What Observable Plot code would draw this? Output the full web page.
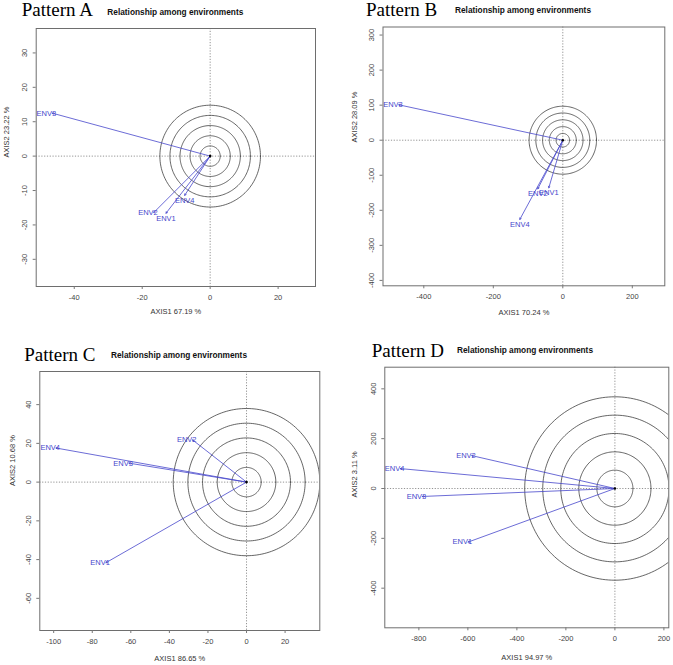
<!DOCTYPE html>
<html><head><meta charset="utf-8">
<script src="https://cdn.jsdelivr.net/npm/d3@7"></script>
<script src="https://cdn.jsdelivr.net/npm/@observablehq/plot@0.6"></script>
<style>
body{margin:0;background:#fff;}
#root{position:relative;width:673px;height:665px;overflow:hidden;background:#fff;}
.ttl{position:absolute;font-family:"Liberation Serif","Times New Roman",serif;font-size:19px;line-height:1;white-space:nowrap;color:#000;}
.sub{position:absolute;font-family:"Liberation Sans",Arial,sans-serif;font-weight:bold;font-size:8.3px;line-height:1;white-space:nowrap;color:#111;}
.pl{position:absolute;}
</style></head><body><div id="root"></div>
<script>
// ---- data ----
const envNames = ["ENV1", "ENV2", "ENV3", "ENV4"];

const tipXA = [-13, -16.6, -46.5, -7.5];
const tipYA = [-16.6, -16.4, 12.5, -11.4];
const radiiA = [2.96, 5.92, 8.88, 11.84, 14.8];
const xTicksA = [-40, -20, 0, 20];
const yTicksA = [-30, -20, -10, 0, 10, 20, 30];

const tipXB = [-40.3, -72, -472, -123.7];
const tipYB = [-135.8, -138.7, 101, -226];
const radiiB = [19.4, 38.8, 58.2, 77.6, 97];
const xTicksB = [-400, -200, 0, 200];
const yTicksB = [-400, -300, -200, -100, 0, 100, 200, 300];

const tipXC = [-72.9, -28, -61, -98.8];
const tipYC = [-41.6, 21.8, 9.8, 17.6];
const radiiC = [7.6, 15.2, 22.8, 30.4, 38];
const xTicksC = [-100, -80, -60, -40, -20, 0, 20];
const yTicksC = [-60, -40, -20, 0, 20, 40];

const tipXD = [-599, -584, -786, -875.5];
const tipYD = [-215, 132, -32, 80];
const radiiD = [73.6, 147.2, 220.8, 294.4, 368];
const xTicksD = [-800, -600, -400, -200, 0, 200];
const yTicksD = [-400, -200, 0, 200, 400];

const titles = ["Pattern A", "Pattern B", "Pattern C", "Pattern D"];
const subtitle = "Relationship among environments";
const xLabels = ["AXIS1 67.19 %", "AXIS1 70.24 %", "AXIS1 86.65 %", "AXIS1 94.97 %"];
const yLabels = ["AXIS2 23.22 %", "AXIS2 28.09 %", "AXIS2 10.68 %", "AXIS2 3.11 %"];

// ---- layout ----
const panels = [
  {tipX: tipXA, tipY: tipYA, radii: radiiA, xTicks: xTicksA, yTicks: yTicksA,
   xDomain: [-51.2, 31.0], yDomain: [-37.9, 37.1],
   box: {left: 0, top: 20, width: 336, height: 300}, m: [8, 21, 34, 35.7],
   title: {left: 21.7, top: 0}, sub: {left: 107.3, top: 7.5}, xlabDy: 27, ylabDx: -30, ylabDy: 0},
  {tipX: tipXB, tipY: tipYB, radii: radiiB, xTicks: xTicksB, yTicks: yTicksB,
   xDomain: [-517.4, 293.5], yDomain: [-415.4, 323],
   box: {left: 336, top: 20, width: 337, height: 300}, m: [6.5, 8.7, 34.7, 46.5],
   title: {left: 366, top: 0}, sub: {left: 455, top: 5.5}, xlabDy: 29, ylabDx: -28.2, ylabDy: -14},
  {tipX: tipXC, tipY: tipYC, radii: radiiC, xTicks: xTicksC, yTicks: yTicksC,
   xDomain: [-107.2, 38], yDomain: [-76.6, 57.1],
   box: {left: 0, top: 365, width: 336, height: 300}, m: [6, 16.7, 35, 39.3],
   title: {left: 24.3, top: 344.8}, sub: {left: 111, top: 350.7}, xlabDy: 30, ylabDx: -27.6, ylabDy: -15},
  {tipX: tipXD, tipY: tipYD, radii: radiiD, xTicks: xTicksD, yTicks: yTicksD,
   xDomain: [-939, 220], yDomain: [-559, 486.8],
   box: {left: 336, top: 360, width: 337, height: 305}, m: [6.7, 4.7, 37.7, 48.3],
   title: {left: 371.7, top: 340.8}, sub: {left: 457, top: 346}, xlabDy: 32, ylabDx: -30, ylabDy: 0}
];

const root = document.getElementById("root");
const blue = "#4646cc";
const fmt = d => String(d);

panels.forEach((p, i) => {
  const t = document.createElement("div");
  t.className = "ttl"; t.textContent = titles[i];
  t.style.left = p.title.left + "px"; t.style.top = p.title.top + "px";
  root.appendChild(t);
  const s = document.createElement("div");
  s.className = "sub"; s.textContent = subtitle;
  s.style.left = p.sub.left + "px"; s.style.top = p.sub.top + "px";
  root.appendChild(s);

  const env = envNames.map((name, j) => ({name, x: p.tipX[j], y: p.tipY[j]}));
  const circ = [];
  p.radii.forEach(r => {
    for (let a = 0; a <= 360; a += 2) {
      const rad = a * Math.PI / 180;
      circ.push({r, x: r * Math.cos(rad), y: r * Math.sin(rad)});
    }
  });
  const side = d => Math.abs(d.x) >= Math.abs(d.y);

  const chart = Plot.plot({
    width: p.box.width, height: p.box.height,
    marginTop: p.m[0], marginRight: p.m[1], marginBottom: p.m[2], marginLeft: p.m[3],
    x: {domain: p.xDomain},
    y: {domain: p.yDomain},
    style: {fontFamily: "'Liberation Sans', Arial, sans-serif", fontSize: "7px", background: "white"},
    marks: [
      Plot.ruleX([0], {stroke: "#777", strokeWidth: 0.8, strokeDasharray: "1.2,1.6"}),
      Plot.ruleY([0], {stroke: "#777", strokeWidth: 0.8, strokeDasharray: "1.2,1.6"}),
      Plot.line(circ, {x: "x", y: "y", z: "r", stroke: "#333", strokeWidth: 0.75, clip: true}),
      Plot.arrow(env, {x1: d => 0, y1: d => 0, x2: "x", y2: "y", stroke: blue, strokeWidth: 0.8, headLength: 3, clip: true}),
      Plot.dot([[0, 0]], {x: d => d[0], y: d => d[1], r: 1.3, fill: "#000", stroke: "none"}),
      Plot.text(env.filter(side), {x: "x", y: "y", text: "name", textAnchor: "end", dx: 4, fill: blue, fontSize: 7.5}),
      Plot.text(env.filter(d => !side(d)), {x: "x", y: "y", text: "name", textAnchor: "middle", dy: 5, fill: blue, fontSize: 7.5}),
      Plot.frame({stroke: "#6e6e6e", strokeWidth: 1}),
      Plot.axisX({ticks: p.xTicks, tickFormat: fmt, tickSize: 3, tickPadding: 5, stroke: "#777", fill: "#444", fontSize: 7.5, label: null}),
      Plot.axisY({ticks: p.yTicks, tickFormat: fmt, tickSize: 3, tickRotate: -90, stroke: "#777", fill: "#444", fontSize: 7.5, label: null}),
      Plot.text([xLabels[i]], {text: d => d, frameAnchor: "bottom", dy: p.xlabDy, fill: "#333", fontSize: 7.5}),
      Plot.text([yLabels[i]], {text: d => d, frameAnchor: "left", rotate: -90, dx: p.ylabDx, dy: p.ylabDy, fill: "#333", fontSize: 7.5})
    ]
  });
  chart.classList.add("pl");
  chart.style.left = p.box.left + "px";
  chart.style.top = p.box.top + "px";
  root.appendChild(chart);
});
</script>
</body></html>
